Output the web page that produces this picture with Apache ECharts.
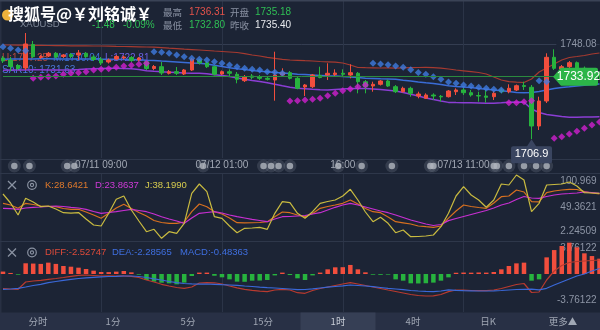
<!DOCTYPE html>
<html>
<head>
<meta charset="utf-8">
<script src="https://cdn.jsdelivr.net/npm/echarts@6/dist/echarts.min.js"></script>
<style>
html,body{margin:0;padding:0;background:#1c2435;}
#chart{width:600px;height:330px;}
</style>
</head>
<body>
<div id="chart"></div>
<script>
// XAUUSD hourly candles: [open, close, low, high]
const candles = [
[1742.02,1740.72,1739.86,1742.89],[1741.16,1738.34,1736.39,1742.45],[1738.78,1737.48,1736.83,1739.42],[1737.69,1748.08,1736.83,1752.84],
[1747.87,1742.58,1742.02,1749.38],[1742.24,1742.67,1741.59,1743.32],[1742.89,1744.06,1742.45,1744.62],[1744.06,1742.45,1741.80,1744.62],
[1742.67,1743.32,1742.02,1743.75],[1743.54,1742.67,1742.02,1744.19],[1743.32,1744.19,1741.16,1745.49],[1744.06,1742.58,1742.02,1744.62],
[1742.45,1741.37,1740.72,1743.32],[1741.46,1739.86,1738.99,1742.45],[1740.29,1741.16,1739.64,1741.80],[1741.59,1742.67,1741.16,1743.32],
[1742.02,1742.45,1741.37,1743.11],[1742.24,1740.94,1740.29,1742.89],[1741.16,1742.02,1740.51,1742.45],[1740.42,1737.48,1736.83,1741.16],
[1737.48,1738.34,1736.83,1738.99],[1738.26,1735.53,1734.66,1740.29],[1735.40,1736.09,1734.88,1736.83],[1736.09,1735.40,1734.66,1738.13],
[1735.10,1736.83,1734.66,1737.26],[1736.83,1741.46,1736.39,1742.02],[1741.16,1739.86,1739.21,1741.59],[1739.99,1738.26,1737.69,1740.72],
[1738.26,1734.97,1734.45,1738.78],[1735.10,1736.09,1734.66,1736.61],[1736.09,1735.40,1734.23,1737.13],[1734.97,1732.80,1731.07,1735.96],
[1732.20,1733.93,1731.63,1734.66],[1734.23,1733.67,1732.80,1735.10],[1733.93,1733.23,1732.50,1734.66],[1733.23,1732.80,1732.28,1733.80],
[1732.50,1734.66,1723.54,1744.75],[1734.66,1735.66,1733.93,1737.56],[1735.66,1733.23,1732.71,1736.39],[1733.23,1728.90,1728.47,1733.93],
[1729.47,1730.33,1725.57,1730.77],[1729.60,1734.66,1729.03,1735.10],[1734.45,1733.58,1733.23,1738.26],[1734.66,1735.40,1732.50,1739.73],
[1734.88,1735.53,1733.93,1737.13],[1735.40,1734.97,1733.93,1737.13],[1734.66,1735.66,1733.23,1739.29],[1735.40,1731.76,1726.74,1735.96],
[1731.76,1729.60,1726.74,1732.50],[1729.90,1730.64,1727.43,1731.76],[1730.64,1732.07,1730.12,1732.50],[1732.07,1729.90,1729.47,1732.71],
[1729.60,1727.43,1726.87,1730.33],[1727.43,1728.90,1727.09,1729.60],[1728.90,1726.74,1725.27,1729.60],[1725.57,1726.44,1724.58,1727.43],
[1724.58,1726.00,1724.27,1726.74],[1726.00,1725.57,1723.84,1726.74],[1725.44,1725.18,1723.11,1726.00],[1725.27,1727.74,1724.92,1728.17],
[1727.43,1728.17,1726.00,1728.90],[1728.17,1727.00,1726.00,1729.03],[1727.00,1726.00,1725.27,1728.17],[1725.79,1725.57,1723.11,1727.43],
[1725.57,1725.01,1722.67,1728.17],[1725.27,1726.74,1723.84,1727.74],[1728.17,1727.43,1726.74,1728.90],[1727.43,1728.90,1726.74,1730.64],
[1728.17,1730.03,1727.74,1730.55],[1730.12,1729.69,1728.17,1731.76],[1729.34,1712.58,1706.90,1730.33],[1712.58,1723.41,1710.85,1725.27],
[1723.41,1742.32,1722.54,1744.06],[1742.32,1737.56,1736.83,1745.79],[1737.26,1738.26,1736.83,1738.99],[1738.26,1739.99,1737.69,1740.72],
[1739.99,1737.56,1736.83,1740.51],[1737.56,1736.39,1735.74,1738.34],[1736.39,1735.40,1734.90,1736.90],[1735.18,1733.92,1732.80,1736.31]
];

// Bollinger bands (upper / middle / lower)
const bollUpper = [
1747.65,1747.65,1747.61,1747.56,1747.52,1747.48,1747.43,1747.39,1747.35,1747.30,
1747.30,1747.26,1747.22,1747.22,1747.13,1747.04,1747.00,1746.96,1746.87,1746.78,
1746.70,1746.52,1746.26,1746.05,1745.83,1745.66,1745.49,1745.27,1745.05,1744.84,
1744.62,1744.40,1743.88,1743.32,1742.89,1742.32,1741.89,1741.46,1741.16,1741.03,
1740.85,1740.72,1740.51,1740.38,1740.20,1739.86,1738.99,1737.91,1737.82,1737.78,
1737.69,1737.71,1737.68,1737.78,1737.87,1737.91,1737.93,1737.87,1737.61,1737.25,
1736.83,1736.48,1736.13,1735.74,1735.10,1733.80,1732.50,1731.76,1731.55,1731.42,
1732.93,1735.96,1737.69,1739.42,1741.16,1742.24,1742.67,1743.11,1743.75,1744.19];
const bollMid = [
1741.50,1741.55,1741.59,1741.63,1741.63,1741.66,1741.66,1741.63,1741.63,1741.59,
1741.59,1741.57,1741.55,1741.50,1741.49,1741.46,1741.42,1741.37,1741.24,1741.07,
1740.94,1740.72,1740.51,1740.29,1740.07,1739.86,1739.77,1739.42,1738.86,1738.34,
1737.78,1737.35,1737.00,1736.66,1736.31,1736.09,1735.79,1735.53,1735.27,1735.01,
1734.84,1734.66,1734.49,1734.32,1734.23,1734.01,1733.80,1733.54,1733.28,1733.15,
1733.02,1732.93,1732.80,1732.41,1732.07,1731.63,1731.29,1730.98,1730.51,1730.04,
1729.73,1729.47,1729.21,1728.86,1728.52,1728.13,1727.87,1727.48,1727.09,1727.00,
1727.13,1727.56,1728.17,1728.82,1729.25,1729.56,1729.90,1730.20,1730.51,1730.77];
const bollLower = [
1736.70,1736.78,1736.83,1736.87,1736.91,1736.91,1736.87,1736.87,1736.83,1736.87,
1737.04,1737.26,1737.39,1737.48,1737.56,1737.56,1737.48,1737.39,1737.04,1736.52,
1736.26,1736.05,1735.87,1735.70,1735.53,1735.44,1735.40,1735.18,1734.79,1734.40,
1733.97,1733.36,1732.80,1732.28,1731.81,1731.29,1730.64,1729.99,1729.38,1728.90,
1728.69,1728.47,1728.30,1728.17,1728.39,1728.60,1728.82,1728.86,1728.82,1728.60,
1728.34,1728.08,1727.74,1727.09,1726.31,1725.57,1724.71,1724.06,1723.41,1722.81,
1722.71,1722.67,1722.63,1722.54,1722.45,1722.47,1722.63,1722.84,1723.02,1722.84,
1719.95,1718.43,1717.56,1717.13,1716.70,1716.39,1716.35,1716.44,1716.53,1716.61];

// Parabolic SAR(10); trend 'd' = stop above price, 'u' = stop below price
const sar = [
1746.91,1746.22,1745.49,1745.18,1733.23,1733.67,1733.93,1734.23,1734.97,1735.40,
1735.66,1736.09,1736.83,1737.13,1737.39,1737.99,1738.56,1738.86,1739.29,1739.73,
1744.75,1744.49,1744.06,1743.32,1742.58,1741.89,1741.46,1741.16,1740.42,1739.73,
1738.99,1738.26,1737.56,1737.13,1736.83,1736.09,1735.83,1735.40,1723.41,1723.54,
1723.84,1724.14,1724.58,1725.70,1726.74,1727.87,1728.60,1729.60,1730.33,1739.73,
1739.42,1739.12,1738.56,1737.99,1736.96,1735.74,1735.01,1733.93,1732.80,1731.63,
1731.07,1730.33,1729.90,1729.34,1728.90,1728.47,1728.17,1722.67,1722.67,1723.11,
1723.54,1732.20,1731.76,1707.26,1707.95,1709.12,1710.29,1711.59,1713.02,1714.32];
const sarTrend = 'dddd' + 'uuuuuuuuuuuuuuuu' + 'dddddddddddddddddd' + 'uuuuuuuuuuu' +
                 'dddddddddddddddddd' + 'uuuu' + 'dd' + 'uuuuuuu';

// KDJ
const kLine = [
57.55,54.24,47.82,57.55,55.21,52.29,51.71,50.93,47.43,45.87,
45.87,40.61,34.77,28.35,38.08,48.40,55.60,47.43,39.64,32.83,
24.06,20.17,18.61,18.40,21.14,41.20,56.19,50.93,41.20,36.72,
28.93,19.78,19.52,19.70,20.17,21.73,31.46,40.61,39.25,34.77,
31.46,37.69,47.82,51.32,54.24,57.55,63.98,56.19,47.43,41.20,
39.25,30.88,21.73,19.58,17.25,13.35,11.99,10.82,13.35,28.6421,
42.56,54.24,51.32,49.37,47.82,58.14,70.40,71.77,83.45,79.55,
60.67,60.20,78.19,81.50,83.45,84.81,84.42,80.14,77.61,75.66];
const dLine = [
47.82,47.23,45.87,48.40,49.76,50.35,51.32,52.29,51.32,49.76,
48.40,45.87,41.59,38.08,39.64,41.20,43.53,45.87,43.53,41.20,
36.72,31.46,26.98,23.09,18.61,28.93,38.08,39.64,41.20,38.67,
34.77,31.46,28.93,26.40,24.06,21.73,26.98,31.46,31.85,32.83,
33.80,36.72,39.25,44.51,49.76,54.24,57.55,54.24,50.35,46.45,
42.56,39.25,34.77,29.91,25.04,21.14,17.25,14.33,16.27,23.8637,
27.96,31.85,35.74,39.64,43.53,48.40,54.24,58.14,64.95,70.79,
67.87,67.29,70.79,73.71,75.66,76.63,77.61,79.55,78.58,77.02];
const jLine = [
75.66,58.14,34.77,67.29,60.08,50.93,52.29,46.45,39.25,38.60,
39.50,27.00,15.30,13.35,38.08,65.34,71.77,44.51,23.09,2.26,
6.93,-10.60,2.26,-0.86,18.61,77.02,95.13,80.14,31.46,28.35,
13.35,0.31,8.88,9.46,10.82,6.93,38.08,60.67,58.72,38.08,
28.35,41.20,57.55,61.06,63.98,71.77,84.81,63.98,40.61,21.73,
30.29,18.61,0.31,5.57,-7.48,-7.09,-6.12,-4.17,11.99,38.1990,
71.77,89.87,73.71,63.98,49.76,63.98,95.13,93.18,112.65,102.92,
41.20,57.55,93.18,94.16,95.13,99.02,91.24,78.19,77.61,77.02];

// MACD
const diffLine = [
-2.083,-2.155,-2.198,-1.149,-1.006,-0.905,-0.761,-0.647,-0.503,-0.330,
-0.187,-0.144,-0.216,-0.287,-0.280,-0.290,-0.284,-0.330,-0.503,-0.862,
-1.149,-1.480,-1.724,-1.940,-2.055,-1.868,-1.293,-1.250,-1.262,-1.437,
-1.724,-1.983,-2.198,-2.342,-2.471,-2.543,-2.299,-2.198,-2.299,-2.687,
-2.773,-2.371,-2.083,-1.868,-1.652,-1.437,-1.250,-1.437,-1.652,-1.868,
-2.083,-2.299,-2.514,-2.730,-2.945,-3.089,-3.161,-3.150,-2.945,-2.52747,
-2.299,-2.328,-2.371,-2.399,-2.385,-2.299,-2.083,-1.796,-1.509,-1.365,
-2.658,-2.586,-0.862,0.431,1.221,1.652,1.796,1.868,1.940,2.011];
const deaLine = [
-2.198,-2.155,-2.055,-1.868,-1.652,-1.480,-1.250,-1.078,-0.905,-0.761,
-0.647,-0.546,-0.474,-0.402,-0.359,-0.330,-0.290,-0.285,-0.359,-0.503,
-0.690,-0.862,-1.078,-1.250,-1.365,-1.430,-1.441,-1.437,-1.480,-1.537,
-1.580,-1.624,-1.724,-1.796,-1.897,-1.968,-2.011,-2.083,-2.155,-2.256,
-2.227,-2.126,-2.011,-1.897,-1.796,-1.695,-1.580,-1.652,-1.724,-1.825,
-1.940,-2.055,-2.155,-2.256,-2.371,-2.443,-2.509,-2.520,-2.443,-2.28565,
-2.342,-2.385,-2.414,-2.440,-2.446,-2.414,-2.371,-2.299,-2.227,-2.198,
-2.184,-2.270,-2.055,-1.580,-1.149,-0.718,-0.287,0.000,0.431,0.790];
const macdBar = [
0.35,0.15,-0.10,1.54,1.50,1.45,1.63,1.45,1.15,1.05,
0.91,0.72,0.48,0.29,0.27,0.34,0.43,0.24,-0.10,-0.86,
-1.10,-1.25,-1.34,-1.48,-1.24,-0.29,0.20,0.20,-0.25,-0.48,
-0.77,-1.10,-1.12,-0.96,-0.94,-0.86,-0.20,0.20,-0.15,-0.62,
-0.86,-0.20,0.20,0.67,0.96,0.98,1.30,0.67,0.24,-0.10,
-0.12,-0.09,-0.77,-0.96,-1.34,-1.36,-1.33,-1.24,-0.96,-0.48363,
0.18,0.21,0.19,0.22,0.20,0.29,0.67,1.15,1.53,1.63,
-0.96,-0.77,2.39,3.44,4.02,4.50,3.83,2.97,2.58,2.20];

// calendar events, in bar units
const events = [1.5,3.5,8.5,9.45,26.5,34.5,35.5,36.5,38,44.4,47.5,51.5,56.6,57,65,65.4,67,69,70.6,72];

// time axis ticks
const tickIndex = [13, 29, 45, 61];
const tickLabels = ['07/11 09:00', '07/12 01:00', '16:00', '07/13 11:00'];

// right-side scale labels
const priceMarks = [1748.08];
const kdjMarks = [100.969, 49.3621, 2.24509];
const macdMarks = [3.76122, -3.76122];

// quote header
const quote = { high: '1736.31', open: '1735.18', low: '1732.80', prevClose: '1735.40', change: '-1.48', pct: '-0.09%' };
const bandLabels = ['U:1737.25', 'M:1730.04', 'L:1722.81'];
const sarLabel = 'SAR10: 1731.63';
const kdjLabels = ['K:28.6421', 'D:23.8637', 'J:38.1990'];
const macdLabels = ['DIFF:-2.52747', 'DEA:-2.28565', 'MACD:-0.48363'];
const tabs = ['分时', '1分', '5分', '15分', '1时', '4时', '日K', '更多▲'];
const activeTab = 4;

const categories = candles.map((_, i) => 'b' + i);
const lastClose = candles[candles.length - 1][1];

const BG = '#1c2435';
const UP = '#f24e3d', DOWN = '#27b33e';
const NUM_FONT = '"Liberation Sans", Arial, sans-serif';
const CJK_FONT = '"Noto Sans CJK SC", "Liberation Sans", sans-serif';
const GRID_LINE = '#2b3447';

const TAG_PATH = 'path://M0,9L7.5,0.5Q8,0 9,0L43,0Q45,0 45,2L45,16Q45,18 43,18L9,18Q8,18 7.5,17.5Z';
const CALLOUT_PATH = 'path://M20.5,0L25,7L39,7Q41,7 41,9L41,22Q41,24 39,24L2,24Q0,24 0,22L0,9Q0,7 2,7L16,7Z';

const showTick = (i) => tickIndex.indexOf(i) >= 0;

function catAxis(gridIndex, withLabels) {
  return {
    type: 'category', gridIndex, data: categories, boundaryGap: false,
    axisLine: { show: false }, axisTick: { show: false },
    axisLabel: withLabels ? {
      show: true, interval: showTick, margin: 2, color: '#a3a9b5', fontSize: 10, fontFamily: NUM_FONT,
      formatter: (v, i) => tickLabels[tickIndex.indexOf(i)] || ''
    } : { show: false },
    splitLine: { show: true, interval: showTick, lineStyle: { color: GRID_LINE, width: 1 } }
  };
}

function scaleAxis(gridIndex, min, max, marks, withLine) {
  return {
    type: 'value', gridIndex, min, max, position: 'right',
    axisLine: { show: false },
    axisTick: { show: false, customValues: marks },
    axisLabel: {
      inside: true, customValues: marks, margin: 3, color: '#8d95a5', fontSize: 10, fontFamily: NUM_FONT,
      formatter: (v) => String(v),
      backgroundColor: withLine ? BG : 'transparent', padding: withLine ? [0, 0, 0, 4] : 0
    },
    splitLine: { show: withLine, lineStyle: { color: '#343d51', width: 1 } }
  };
}

function txt(x, y, text, fill, size, family, extra) {
  return Object.assign({
    type: 'text', z: 100, silent: true,
    style: { x, y, text, fill, font: size + 'px ' + family, textAlign: 'left', textVerticalAlign: 'middle', verticalAlign: 'middle' }
  }, extra || {});
}

function closeIcon(cx, cy) {
  return [
    { type: 'line', z: 100, shape: { x1: cx - 4, y1: cy - 4, x2: cx + 4, y2: cy + 4 }, style: { stroke: '#8a92a2', lineWidth: 1.3 } },
    { type: 'line', z: 100, shape: { x1: cx + 4, y1: cy - 4, x2: cx - 4, y2: cy + 4 }, style: { stroke: '#8a92a2', lineWidth: 1.3 } }
  ];
}
function gearIcon(cx, cy) {
  return [
    { type: 'circle', z: 100, shape: { cx, cy, r: 4.3 }, style: { fill: 'none', stroke: '#8a92a2', lineWidth: 1.2 } },
    { type: 'circle', z: 100, shape: { cx, cy, r: 1.6 }, style: { fill: 'none', stroke: '#8a92a2', lineWidth: 1.1 } }
  ];
}

const graphics = [];
// frame lines
graphics.push({ type: 'rect', z: 50, shape: { x: 0, y: 0, width: 600, height: 1.5 }, style: { fill: '#3a4356' } });
graphics.push({ type: 'rect', z: 1, shape: { x: 0, y: 0, width: 1.5, height: 330 }, style: { fill: '#283043' } });
[159.5, 173.5, 241.5].forEach((y) => graphics.push({ type: 'line', z: 1, shape: { x1: 0, y1: y, x2: 600, y2: y }, style: { stroke: '#2e374a', lineWidth: 1 } }));
// indicator overlays on the price pane
graphics.push(txt(2, 58.5, bandLabels[0], '#b8493e', 10, NUM_FONT, { z: 0 }));
graphics.push(txt(53, 58.5, bandLabels[1], '#3f6fd8', 10, NUM_FONT, { z: 0 }));
graphics.push(txt(105, 58.5, bandLabels[2], '#6b5ee0', 10, NUM_FONT, { z: 0 }));
graphics.push(txt(2, 70.5, sarLabel, '#4a78dc', 10, NUM_FONT, { z: 0 }));
// symbol and quote header
graphics.push({ type: 'circle', z: 99, shape: { cx: 7.5, cy: 15, r: 5.5 }, style: { fill: '#eeb13b' } });
graphics.push(txt(20, 24.5, 'XAUUSD', '#7f8899', 9.5, NUM_FONT));
graphics.push(txt(8, 13.5, '搜狐号@￥刘铭诚￥', '#ffffff', 16, CJK_FONT, {
  style: { x: 8, y: 13.5, text: '搜狐号@￥刘铭诚￥', fill: '#ffffff', font: 'bold 16px ' + CJK_FONT,
    textVerticalAlign: 'middle', verticalAlign: 'middle', shadowColor: 'rgba(0,0,0,0.95)', shadowBlur: 3, shadowOffsetX: 1, shadowOffsetY: 1 }
}));
graphics.push(txt(92, 25.5, quote.change, '#2fbf55', 10, NUM_FONT));
graphics.push(txt(123, 25.5, quote.pct, '#2fbf55', 10, NUM_FONT));
graphics.push(txt(163, 12, '最高', '#8a92a3', 9.5, CJK_FONT));
graphics.push(txt(189, 12, quote.high, '#e5534b', 10, NUM_FONT));
graphics.push(txt(230, 12, '开盘', '#8a92a3', 9.5, CJK_FONT));
graphics.push(txt(255, 12, quote.open, '#2fbf55', 10, NUM_FONT));
graphics.push(txt(163, 25.5, '最低', '#8a92a3', 9.5, CJK_FONT));
graphics.push(txt(189, 25.5, quote.low, '#2fbf55', 10, NUM_FONT));
graphics.push(txt(230, 25.5, '昨收', '#8a92a3', 9.5, CJK_FONT));
graphics.push(txt(255, 25.5, quote.prevClose, '#e8eaee', 10, NUM_FONT));
// KDJ header
graphics.push(...closeIcon(12, 185), ...gearIcon(32, 185));
graphics.push(txt(45, 185, kdjLabels[0], '#e07a2c', 9.5, NUM_FONT));
graphics.push(txt(95, 185, kdjLabels[1], '#d03ad8', 9.5, NUM_FONT));
graphics.push(txt(145, 185, kdjLabels[2], '#d6cb4e', 9.5, NUM_FONT));
// MACD header
graphics.push(...closeIcon(12, 252.5), ...gearIcon(32, 252.5));
graphics.push(txt(45, 252.5, macdLabels[0], '#de4b3a', 9.5, NUM_FONT));
graphics.push(txt(112, 252.5, macdLabels[1], '#3f6fe0', 9.5, NUM_FONT));
graphics.push(txt(180, 252.5, macdLabels[2], '#3f6fe0', 9.5, NUM_FONT));
// period tabs
graphics.push({ type: 'rect', z: 90, shape: { x: 0, y: 312.5, width: 600, height: 17.5 }, style: { fill: '#283045' } });
graphics.push({ type: 'rect', z: 91, shape: { x: 0.5 + 75 * activeTab, y: 312.5, width: 75, height: 17.5 }, style: { fill: '#363f55' } });
tabs.forEach((t, i) => graphics.push({
  type: 'text', z: 92, silent: true,
  style: { x: 38 + 75 * i, y: 321.5, text: t, fill: i === activeTab ? '#c9ced8' : '#a0a7b4', font: '9.5px ' + CJK_FONT,
    textAlign: 'center', align: 'center', textVerticalAlign: 'middle', verticalAlign: 'middle' }
}));

const chart = echarts.init(document.getElementById('chart'), null, { renderer: 'canvas' });
chart.setOption({
  backgroundColor: BG,
  animation: false,
  grid: [
    { left: 3, right: 0.5, top: 0, height: 158 },
    { left: 3, right: 0.5, top: 159, height: 14 },
    { left: 3, right: 0.5, top: 173, height: 68 },
    { left: 3, right: 0.5, top: 241, height: 71 }
  ],
  xAxis: [
    catAxis(0, true),
    { type: 'value', gridIndex: 1, min: 0, max: categories.length - 1, show: false },
    catAxis(2, false),
    catAxis(3, false)
  ],
  yAxis: [
    scaleAxis(0, 1698.73, 1767.13, priceMarks, true),
    { type: 'value', gridIndex: 1, min: 0, max: 1, show: false },
    scaleAxis(2, -15.85, 116.55, kdjMarks, false),
    scaleAxis(3, -5.46, 4.741, macdMarks, false)
  ],
  graphic: { elements: graphics },
  series: [
    { name: 'UP', type: 'line', xAxisIndex: 0, yAxisIndex: 0, data: bollUpper, symbol: 'none', z: 2,
      lineStyle: { color: '#a63a30', width: 1.2 } },
    { name: 'MID', type: 'line', xAxisIndex: 0, yAxisIndex: 0, data: bollMid, symbol: 'none', z: 2,
      lineStyle: { color: '#3a6cd6', width: 1.5 } },
    { name: 'LOW', type: 'line', xAxisIndex: 0, yAxisIndex: 0, data: bollLower, symbol: 'none', z: 2,
      lineStyle: { color: '#8b3ed4', width: 1.5 } },
    { name: 'XAUUSD', type: 'candlestick', xAxisIndex: 0, yAxisIndex: 0, data: candles, barWidth: 4, z: 3,
      itemStyle: { color: UP, color0: DOWN, borderColor: UP, borderColor0: DOWN, borderWidth: 1 },
      markLine: { silent: true, symbol: ['none', 'none'], label: { show: false },
        lineStyle: { color: '#2b8a3e', width: 1, type: 'solid' }, data: [{ yAxis: lastClose }] },
      markPoint: {
        silent: true,
        data: [
          { name: 'last', coord: [categories[categories.length - 1], lastClose], value: lastClose,
            symbol: TAG_PATH, symbolSize: [45, 18], symbolOffset: [-24, 0], itemStyle: { color: '#2cb548' },
            label: { show: true, color: '#ffffff', fontSize: 12, fontFamily: NUM_FONT, offset: [3, 0],
              formatter: (p) => Number(p.value).toFixed(2) } },
          { name: 'low', type: 'min', valueDim: 'lowest',
            symbol: CALLOUT_PATH, symbolSize: [41, 24], symbolOffset: [0, 12], itemStyle: { color: '#3a4560' },
            label: { show: true, color: '#ffffff', fontSize: 11, fontFamily: NUM_FONT, offset: [0, 3],
              formatter: (p) => String(p.value) } }
        ]
      } },
    { name: 'SAR-', type: 'scatter', xAxisIndex: 0, yAxisIndex: 0, symbol: 'diamond', symbolSize: 7, z: 4,
      data: sar.map((v, i) => sarTrend[i] === 'd' ? v : '-'), itemStyle: { color: '#3f7ae0' } },
    { name: 'SAR+', type: 'scatter', xAxisIndex: 0, yAxisIndex: 0, symbol: 'diamond', symbolSize: 7, z: 4,
      data: sar.map((v, i) => sarTrend[i] === 'u' ? v : '-'), itemStyle: { color: '#cf1fd0' } },
    { name: 'eventHalo', type: 'scatter', xAxisIndex: 1, yAxisIndex: 1, symbolSize: 13, z: 3,
      data: events.map((e) => [e, 0.5]), itemStyle: { color: 'rgba(140,147,160,0.28)' } },
    { name: 'event', type: 'scatter', xAxisIndex: 1, yAxisIndex: 1, symbolSize: 6.5, z: 4,
      data: events.map((e) => [e, 0.5]), itemStyle: { color: '#b0b5be' } },
    { name: 'K', type: 'line', xAxisIndex: 2, yAxisIndex: 2, data: kLine, symbol: 'none',
      lineStyle: { color: '#d8701f', width: 1.2 } },
    { name: 'D', type: 'line', xAxisIndex: 2, yAxisIndex: 2, data: dLine, symbol: 'none',
      lineStyle: { color: '#c82fd2', width: 1.2 } },
    { name: 'J', type: 'line', xAxisIndex: 2, yAxisIndex: 2, data: jLine, symbol: 'none',
      lineStyle: { color: '#c9bb40', width: 1.2 } },
    { name: 'MACD', type: 'bar', xAxisIndex: 3, yAxisIndex: 3, data: macdBar, barWidth: 4.5,
      itemStyle: { color: (p) => p.value >= 0 ? UP : DOWN } },
    { name: 'DIFF', type: 'line', xAxisIndex: 3, yAxisIndex: 3, data: diffLine, symbol: 'none',
      lineStyle: { color: '#b83a2f', width: 1.2 } },
    { name: 'DEA', type: 'line', xAxisIndex: 3, yAxisIndex: 3, data: deaLine, symbol: 'none',
      lineStyle: { color: '#3a68d8', width: 1.2 } }
  ]
});
</script>
</body>
</html>
